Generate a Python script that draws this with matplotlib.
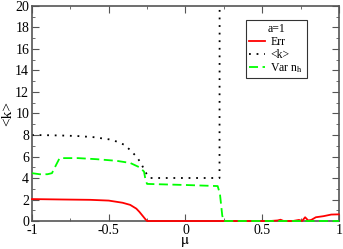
import matplotlib
matplotlib.use('Agg')
import matplotlib.pyplot as plt
from matplotlib.ticker import MultipleLocator, FormatStrFormatter

plt.rcParams['font.family'] = ['Liberation Serif', 'DejaVu Serif']
plt.rcParams['mathtext.fontset'] = 'stix'
plt.rcParams['axes.unicode_minus'] = False

# <k>
mu_k = [-1.0, -0.9, -0.8, -0.7, -0.6, -0.5, -0.45, -0.4, -0.36, -0.32, -0.29,
        -0.27, -0.25, -0.23, 0.0, 0.222, 0.223]
k = [8.0, 7.98, 7.95, 7.9, 7.8, 7.6, 7.4, 7.1, 6.6, 6.0, 5.4, 4.8, 4.3, 4.0,
     4.0, 4.0, 25.0]

# Var n_h
mu_var = [-1.0, -0.95, -0.9, -0.87, -0.84, -0.82, -0.7, -0.58, -0.45, -0.36,
          -0.30, -0.27, -0.26, -0.25, 0.0, 0.21, 0.225, 0.24, 0.25, 1.0]
var = [4.45, 4.35, 4.35, 4.45, 5.3, 5.85, 5.85, 5.75, 5.6, 5.4, 5.0, 4.6,
       3.8, 3.45, 3.35, 3.25, 2.5, 0.5, 0.0, 0.0]

# Err
mu_err = [-1.0, -0.8, -0.62, -0.5, -0.41, -0.36, -0.32, -0.30, -0.28, -0.26,
          -0.25, 0.0, 0.55, 0.6, 0.62, 0.64, 0.7, 0.74, 0.76, 0.78, 0.8, 0.82,
          0.85, 0.9, 0.95, 1.0]
err = [2.04, 2.0, 1.97, 1.9, 1.7, 1.5, 1.15, 0.85, 0.5, 0.15, 0.0, 0.0, 0.0,
       0.05, 0.12, 0.0, 0.0, 0.1, 0.0, 0.35, 0.05, 0.1, 0.35, 0.45, 0.6, 0.62]

fig = plt.figure(figsize=(3.43, 2.49), dpi=100)
ax = fig.add_axes([0.0933, 0.1124, 0.8947, 0.8636])

ax.plot(mu_err, err, color='#ff0000', lw=1.3, label='Err', clip_on=False,
        zorder=3)
ax.plot(mu_k, k, color='black', lw=1.3, ls=(0, (1, 3.2)), label='<k>')
ax.plot(mu_var, var, color='#00ff00', lw=1.3, ls=(0, (5, 2.5)),
        label=r'Var n$_{\mathrm{h}}$', clip_on=False, zorder=4)

ax.set_xlim(-1, 1)
ax.set_ylim(0, 20)
ax.xaxis.set_major_locator(MultipleLocator(0.5))
ax.xaxis.set_minor_locator(MultipleLocator(0.25))
ax.xaxis.set_major_formatter(FormatStrFormatter('%g'))
ax.yaxis.set_major_locator(MultipleLocator(2))
ax.yaxis.set_minor_locator(MultipleLocator(1))
ax.tick_params(which='both', direction='in', top=True, right=True,
               labelsize=10, colors='#555555', labelcolor='black', pad=2)
ax.tick_params(which='major', length=5)
ax.tick_params(which='minor', length=2.5)
for s in ax.spines.values():
    s.set_color('#555555')
    s.set_linewidth(1.2)

ax.set_xlabel(r'$\mathrm{\mu}$', fontsize=11, labelpad=-1)
ax.set_ylabel('<k>', fontsize=11, labelpad=1)

leg = ax.legend(title='a=1', loc='upper right', bbox_to_anchor=(0.895, 0.935),
                fontsize=8.5, title_fontsize=8.5, frameon=True, fancybox=False,
                handlelength=1.3, handletextpad=0.5, borderpad=0.3,
                labelspacing=0.05, borderaxespad=0)
leg.get_frame().set_edgecolor('black')
leg.get_frame().set_linewidth(0.8)

fig.savefig('out.png', dpi=100)
